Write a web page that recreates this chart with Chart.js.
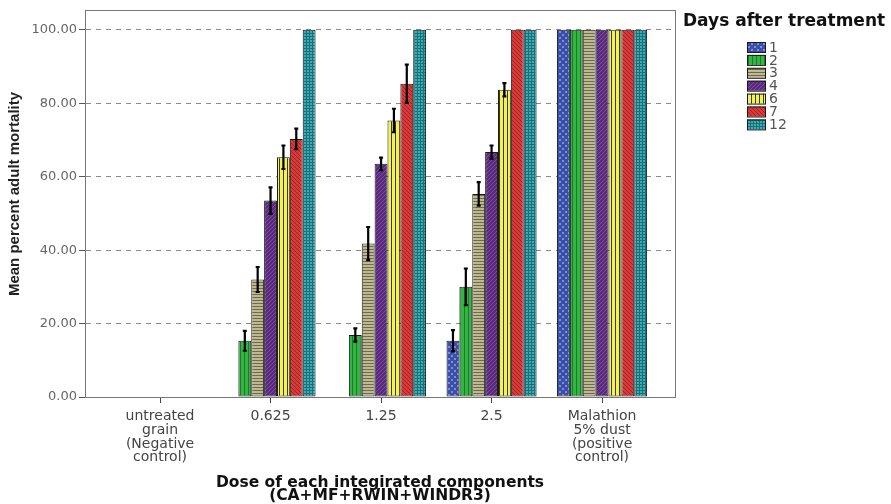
<!DOCTYPE html>
<html>
<head>
  <title>Mean percent adult mortality</title>
  <script src="https://cdn.jsdelivr.net/npm/chart.js"></script>
  <style>
    body { margin: 0; background: #ffffff; }
    #wrap { width: 891px; height: 504px; }
  </style>
</head>
<body>
  <div id="wrap"><canvas id="mortChart" width="891" height="504"></canvas></div>

  <script>
    // categories (dose) and series (days after treatment)
    const doses = [
      ['untreated', 'grain', '(Negative', 'control)'],
      ['0.625'],
      ['1.25'],
      ['2.5'],
      ['Malathion', '5% dust', '(positive', 'control)']
    ];
    const days = ['1', '2', '3', '4', '6', '7', '12'];

    // mean values per day, one entry per dose
    const day1 = [0, 0, 0, 15.3, 100];
    const day2 = [0, 15.3, 16.9, 30, 100];
    const day3 = [0, 32, 41.8, 55.3, 100];
    const day4 = [0, 53.5, 63.5, 66.7, 100];
    const day6 = [0, 65.3, 75.3, 83.7, 100];
    const day7 = [0, 70.3, 85.3, 100, 100];
    const day12 = [0, 100, 100, 100, 100];

    // error bar half-widths
    const err1 = [0, 0, 0, 2.9, 0];
    const err2 = [0, 2.7, 1.8, 5, 0];
    const err3 = [0, 3.4, 4.5, 3.2, 0];
    const err4 = [0, 3.6, 1.7, 1.8, 0];
    const err6 = [0, 3.2, 3.2, 1.8, 0];
    const err7 = [0, 2.8, 5.2, 0, 0];
    const err12 = [0, 0, 0, 0, 0];

    const yTicks = [0, 20, 40, 60, 80, 100];

    const means = [day1, day2, day3, day4, day6, day7, day12];
    const errs = [err1, err2, err3, err4, err6, err7, err12];

    // fill patterns like the SPSS bars
    const tmpCtx = document.createElement('canvas').getContext('2d');
    function makePattern(size, bg, draw) {
      const c = document.createElement('canvas');
      c.width = size; c.height = size;
      const g = c.getContext('2d');
      g.fillStyle = bg;
      g.fillRect(0, 0, size, size);
      draw(g);
      return tmpCtx.createPattern(c, 'repeat');
    }
    const fills = [
      makePattern(6, '#3c4fa6', g => { g.fillStyle = '#7d8ee0'; g.fillRect(1, 1, 2, 2); g.fillRect(4, 4, 2, 2); }),
      makePattern(4, '#33b443', g => { g.fillStyle = '#1d7a2a'; g.fillRect(0, 0, 1, 4); }),
      makePattern(3, '#bdb992', g => { g.fillStyle = '#6e6a4c'; g.fillRect(0, 0, 3, 1); }),
      makePattern(4, '#5a2b7c', g => { g.fillStyle = '#7b4ca0'; for (let i = 0; i < 4; i++) g.fillRect(i, 3 - i, 1, 1); }),
      makePattern(4, '#f4f152', g => { g.fillStyle = '#3a3a20'; g.fillRect(3, 0, 1, 4); }),
      makePattern(4, '#d83a3a', g => { g.fillStyle = '#a02424'; for (let i = 0; i < 4; i++) g.fillRect(i, i, 1, 1); }),
      makePattern(3, '#38adb6', g => { g.fillStyle = '#1f6f78'; g.fillRect(0, 0, 3, 1); g.fillRect(0, 0, 1, 3); })
    ];

    const datasets = days.map((d, i) => ({
      label: d,
      data: means[i].map((v, j) => ({ x: j, y: v })),
      errors: errs[i],
      backgroundColor: fills[i],
      borderColor: '#1a1a1a',
      borderWidth: 1,
      borderSkipped: false,
      categoryPercentage: 0.815,
      barPercentage: 1.0
    }));

    // error bars drawn from the scales
    const errorBars = {
      id: 'errorBars',
      afterDatasetsDraw(chart) {
        const ctx = chart.ctx;
        const yScale = chart.scales.y;
        ctx.save();
        ctx.strokeStyle = '#000000';
        ctx.lineWidth = 2.2;
        chart.data.datasets.forEach((ds, i) => {
          const meta = chart.getDatasetMeta(i);
          meta.data.forEach((bar, j) => {
            const e = ds.errors[j];
            if (!e) return;
            const v = ds.data[j].y;
            const yTop = yScale.getPixelForValue(v + e);
            const yBot = yScale.getPixelForValue(v - e);
            ctx.beginPath();
            ctx.moveTo(bar.x, yTop); ctx.lineTo(bar.x, yBot);
            ctx.moveTo(bar.x - 2, yTop); ctx.lineTo(bar.x + 2, yTop);
            ctx.moveTo(bar.x - 2, yBot); ctx.lineTo(bar.x + 2, yBot);
            ctx.stroke();
          });
        });
        ctx.restore();
      }
    };

    // frame round the plot, y title and the legend on the right
    const frameAndLegend = {
      id: 'frameAndLegend',
      afterDraw(chart) {
        const ctx = chart.ctx;
        const a = chart.chartArea;
        ctx.save();
        ctx.strokeStyle = '#777777';
        ctx.lineWidth = 1;
        ctx.strokeRect(a.left + 0.5, a.top + 0.5, a.right - a.left, a.bottom - a.top);

        ctx.save();
        ctx.translate(15, 194);
        ctx.rotate(-Math.PI / 2);
        ctx.fillStyle = '#222222';
        ctx.font = 'bold 15px "Liberation Sans"';
        ctx.textAlign = 'center';
        ctx.textBaseline = 'middle';
        ctx.fillText('Mean percent adult mortality', 0, 0);
        ctx.restore();

        ctx.fillStyle = '#111111';
        ctx.font = 'bold 17px "DejaVu Sans"';
        ctx.textBaseline = 'middle';
        ctx.textAlign = 'left';
        ctx.fillText('Days after treatment', 683, 22);

        ctx.font = '14px "DejaVu Sans"';
        chart.data.datasets.forEach((ds, i) => {
          const y = 47 + i * 12.9;
          ctx.fillStyle = ds.backgroundColor;
          ctx.fillRect(747, y - 5, 19, 10);
          ctx.strokeStyle = '#1a1a1a';
          ctx.strokeRect(747.5, y - 4.5, 18, 10);
          ctx.fillStyle = '#555555';
          ctx.fillText(ds.label, 769, y + 1);
        });
        ctx.restore();
      }
    };

    new Chart(document.getElementById('mortChart'), {
      type: 'bar',
      data: { datasets: datasets },
      options: {
        responsive: false,
        animation: false,
        layout: { padding: { top: 10, right: 216, left: 0, bottom: 0 } },
        plugins: {
          legend: { display: false },
          tooltip: { enabled: false }
        },
        scales: {
          x: {
            type: 'linear',
            offset: false,
            min: -0.679,
            max: 4.66,
            afterBuildTicks: s => { s.ticks = doses.map((d, i) => ({ value: i })); },
            afterFit: s => { s.height = 107; },
            grid: { offset: false, drawOnChartArea: false, drawTicks: true, tickLength: 6, tickColor: '#444444' },
            border: { display: true, color: '#444444', width: 1 },
            ticks: {
              callback: v => doses[v],
              font: { family: 'DejaVu Sans', size: 14, lineHeight: 0.97 },
              color: '#444444',
              padding: 7,
              maxRotation: 0,
              autoSkip: false
            },
            title: {
              display: true,
              text: ['Dose of each integirated components', '(CA+MF+RWIN+WINDR3)'],
              font: { family: 'DejaVu Sans', size: 15.5, weight: 'bold', lineHeight: 0.88 },
              color: '#111111',
              padding: { top: 0, bottom: 1 }
            }
          },
          y: {
            min: 0,
            max: 105.4,
            afterBuildTicks: s => { s.ticks = yTicks.map(v => ({ value: v })); },
            afterFit: s => { s.width = 85; },
            grid: {
              color: '#8a8a8a',
              tickBorderDash: [],
              tickColor: '#555555',
              tickLength: 6,
              drawTicks: true
            },
            border: { display: true, color: '#444444', width: 1, dash: [5, 5] },
            ticks: {
              callback: v => v.toFixed(2),
              font: { family: 'DejaVu Sans', size: 13 },
              color: '#666666',
              padding: 2
            },
            title: { display: false }
          }
        }
      },
      plugins: [errorBars, frameAndLegend]
    });
  </script>
</body>
</html>
